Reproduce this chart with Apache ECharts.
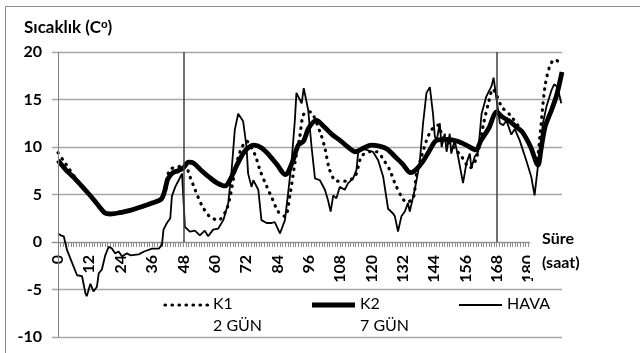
<!DOCTYPE html>
<html>
<head>
<meta charset="utf-8">
<script src="https://cdn.jsdelivr.net/npm/echarts@6/dist/echarts.min.js"></script>
<style>
html,body{margin:0;padding:0;background:#fff;}
#chart{width:640px;height:353px;}
</style>
</head>
<body>
<div id="chart"></div>
<script>
// saat / sicaklik ciftleri
var k1 = [[0,9.4],[2,8.6],[4,7.8],[6,7.0],[9,6.0],[12,5.0],[15,4.0],[18,3.1],[20,3.0],[24,3.2],[28,3.4],[32,3.7],[36,4.1],[39,4.5],[40,4.8],[41,5.8],[42,7.0],[43,7.7],[45,7.8],[47,8.0],[48.5,8.2],[50.5,6.9],[52.5,5.5],[55,3.9],[58,2.7],[61.4,2.3],[64.5,3.4],[66,4.9],[67.7,7.4],[69.7,9.5],[72.2,10.6],[75.4,9.2],[77.3,7.6],[80,5.8],[82,4.6],[84.3,3.2],[86.9,2.7],[88.8,4.9],[90.7,8.3],[92.6,11.1],[94,13.4],[96.4,13.7],[100.3,11.6],[102.2,9.9],[104,7.6],[106.7,6.4],[109.8,6.4],[113.7,6.9],[116.2,9.0],[119.4,9.5],[122,9.5],[125,8.5],[127,7.6],[129,6.2],[131.5,4.8],[133.4,4.2],[136,4.6],[137.3,7.2],[139.2,9.0],[141,10.6],[143,11.8],[145.5,12.3],[147.5,10.9],[150.7,10.2],[154.5,9.0],[157.7,7.8],[160.2,8.8],[163,12.5],[165,14.8],[166.5,16.1],[168,15.4],[170,14.2],[173,13.4],[176.8,12.0],[180.6,10.4],[183.2,8.6],[184.5,11.0],[186.4,16.2],[188.3,18.5],[190.2,19.2],[192.5,18.8]];

var k2 = [[0,8.6],[3,7.6],[6,6.8],[9,5.9],[12,5.0],[15,4.0],[18,3.05],[20,2.95],[24,3.1],[28,3.35],[32,3.7],[36,4.1],[39,4.4],[40,4.7],[41,5.5],[42,6.6],[44,7.3],[46,7.5],[48,7.8],[50,8.4],[52,8.3],[55,7.5],[58,6.8],[61,6.2],[64,5.9],[66,6.6],[68,7.8],[70,8.9],[72,9.7],[75,10.2],[78,9.9],[81,9.1],[84,8.1],[87,7.1],[88,7.3],[90,8.6],[92,10.2],[94,10.6],[96,12.0],[99,12.8],[102,12.1],[105,11.3],[108,10.7],[111,10.0],[114,9.5],[117,9.9],[120,10.2],[123,10.1],[126,9.8],[129,9.0],[132,8.2],[135,7.3],[137,7.6],[140,8.6],[142,9.5],[145,10.7],[149,10.8],[153,10.6],[157,10.1],[160,9.7],[162,10.7],[165,12.0],[168,13.7],[170,13.2],[173,12.7],[176,12.0],[178,11.5],[181,10.0],[183.8,8.1],[185,9.8],[186.5,12.1],[189,13.9],[191,15.5],[193,17.9]];

var hava = [[0,0.9],[1,0.7],[2.2,0.6],[3.4,-0.8],[5.4,-2.2],[7.3,-3.5],[9.2,-3.6],[10.5,-5.4],[11,-5.7],[12.4,-4.4],[13.6,-5.2],[14.9,-4.7],[15.6,-3.3],[16.8,-2.9],[18.1,-1.4],[19.4,-0.5],[20.7,-0.7],[21.9,-1.2],[23.2,-1.0],[24.5,-1.5],[26.4,-1.2],[27.7,-1.4],[30.9,-1.3],[33,-1.0],[36,-0.7],[38.6,-0.7],[39.8,-0.3],[40.4,1.3],[41.7,2.0],[43,2.5],[43.6,4.8],[44.9,5.8],[46.2,6.5],[47.5,7.2],[48,7.4],[48.6,1.6],[50.5,1.1],[52.4,1.2],[54.3,0.7],[56.2,1.2],[57.5,0.6],[59.4,1.3],[61.3,1.4],[63.3,2.3],[65.2,4.1],[66.5,7.6],[67.7,11.8],[69,13.5],[70.9,12.7],[72.2,10.0],[72.8,7.2],[74.1,5.8],[74.8,6.5],[76.7,5.5],[77.9,2.3],[79.9,2.0],[81.8,2.0],[83,2.1],[85,0.9],[86.9,2.3],[88.1,5.1],[89.4,8.3],[90.7,12.8],[91.3,15.7],[92,15.8],[93.3,14.6],[94.1,16.2],[95.8,13.9],[97.1,10.0],[98.4,6.7],[100.3,6.5],[102.2,5.5],[103.4,4.4],[104.4,3.2],[105.4,4.9],[106.6,4.6],[107.9,5.8],[109.8,5.5],[111.1,6.2],[113,6.7],[114.3,7.6],[114.9,9.3],[116.2,9.9],[118.1,9.7],[120.6,9.5],[122.6,8.6],[124.5,6.9],[126.4,3.5],[128.3,3.0],[129,2.7],[130.2,1.1],[131.5,2.7],[132.8,3.2],[134,4.1],[134.7,3.2],[136.6,5.5],[138.5,8.3],[139.8,12.5],[141.1,15.7],[142.4,16.3],[143,16.2],[143.6,13.5],[144.3,11.1],[145,10.7],[146.2,12.5],[146.9,10.0],[148.1,11.4],[148.8,9.5],[150,11.4],[150.6,9.3],[151.9,10.7],[153.2,9.0],[155.1,6.2],[156.4,8.3],[157.7,9.3],[158.3,7.8],[159.6,9.0],[160.9,9.5],[162.2,13.5],[164,15.3],[166,16.4],[166.8,17.3],[168,14.9],[169.2,12.5],[170.5,12.3],[171.7,12.8],[173.6,11.3],[174.9,11.9],[176.8,10.7],[179.3,8.6],[181.2,6.9],[182.5,4.9],[184.5,9.7],[185.7,12.5],[187,14.2],[189,16.0],[190,16.6],[191.3,16.3],[192.7,14.6]];

var seriesNames = ['K1', 'K2', 'HAVA'];
var legendNotes = ['2 GÜN', '7 GÜN'];
var markerHours = [48, 168];   // dikey cizgiler
var xLabelValues = [0,12,24,36,48,60,72,84,96,108,120,132,144,156,168,180];
var xTickValues = [];
for (var t = 0; t <= 193; t++) xTickValues.push(t);

var font = 'Lato';
var lineStyles = {
  K1: {color: '#000', width: 3.2, type: [0.5, 6.5], cap: 'round'},
  K2: {color: '#000', width: 4.8},
  HAVA: {color: '#000', width: 1.8}
};

var myChart = echarts.init(document.getElementById('chart'));

var markLineData = markerHours.map(function (h) {
  return [{coord: [h, 0]}, {coord: [h, 20]}];
});
// dikey eksen cizgisi x=0 uzerinde
markLineData.push([{coord: [0, -10], lineStyle: {color: '#7f7f7f', width: 1}}, {coord: [0, 20]}]);

// legend: cizgi ornekleri + yazilar
var legendX = [165, 312, 459];
var legendY = 305;
var legendGraphics = [];
seriesNames.forEach(function (name, i) {
  var ls = lineStyles[name];
  legendGraphics.push({
    type: 'line',
    shape: {x1: legendX[i], y1: legendY, x2: legendX[i] + 43, y2: legendY},
    style: {stroke: ls.color, lineWidth: ls.width, lineDash: ls.type && ls.type.length ? ls.type : null, lineCap: ls.cap || 'butt'}
  });
  legendGraphics.push({
    type: 'text', left: legendX[i] + 48, top: legendY - 9,
    style: {text: name, fontFamily: font, fontSize: 16, fill: '#000'}
  });
});
legendNotes.forEach(function (note, i) {
  legendGraphics.push({
    type: 'text', left: legendX[i] + 48, top: legendY + 13,
    style: {text: note, fontFamily: font, fontSize: 16, fill: '#000'}
  });
});

option = {
  animation: false,
  textStyle: {fontFamily: font},
  grid: {left: 52, right: 78, top: 52, bottom: 16, containLabel: false, outerBoundsMode: 'none'},
  xAxis: {
    type: 'value',
    min: -2.3,
    max: 193,
    axisLine: {show: true, onZero: true, lineStyle: {color: '#8c8c8c', width: 1}},
    axisTick: {show: true, length: 5, customValues: xTickValues, lineStyle: {color: '#8c8c8c'}},
    axisLabel: {
      customValues: xLabelValues,
      rotate: 90,
      margin: -82,
      fontSize: 16,
      fontWeight: 'bold',
      color: '#000'
    },
    splitLine: {show: false}
  },
  yAxis: {
    type: 'value',
    min: -10,
    max: 20,
    interval: 5,
    axisLine: {show: false, onZero: false},
    axisTick: {show: false},
    axisLabel: {fontSize: 16, fontWeight: 'bold', color: '#000', margin: 10},
    splitLine: {lineStyle: {color: '#a6a6a6', width: 1.3}}
  },
  series: [
    {
      name: 'K1',
      type: 'line',
      symbol: 'none',
      smooth: 0.3,
      data: k1,
      lineStyle: lineStyles.K1
    },
    {
      name: 'K2',
      type: 'line',
      symbol: 'none',
      smooth: 0.3,
      data: k2,
      lineStyle: lineStyles.K2
    },
    {
      name: 'HAVA',
      type: 'line',
      symbol: 'none',
      data: hava,
      lineStyle: lineStyles.HAVA,
      markLine: {
        silent: true,
        symbol: 'none',
        label: {show: false},
        lineStyle: {color: '#404040', width: 1.5, type: 'solid'},
        data: markLineData
      }
    }
  ],
  graphic: [
    {type: 'rect', z: 0, shape: {x: 5.5, y: 6.5, width: 700, height: 400},
     style: {fill: null, stroke: '#8c8c8c', lineWidth: 1}},
    {type: 'text', left: 24, top: 19,
     style: {text: 'Sıcaklık (C{s|o})', fontFamily: font, fontSize: 17, fontWeight: 'bold', fill: '#000',
       rich: {s: {fontSize: 11, fontWeight: 'bold', verticalAlign: 'top', padding: [0, 0, 6, 0]}}}},
    {type: 'rect', z: 50, shape: {x: 530, y: 226, width: 70, height: 52},
     style: {fill: '#fff'}},
    {type: 'text', z: 51, left: 542, top: 227,
     style: {text: 'Süre\n(saat)', fontFamily: font, fontSize: 16, fontWeight: 'bold', fill: '#000', lineHeight: 24}}
  ].concat(legendGraphics)
};

myChart.setOption(option);
</script>
</body>
</html>
